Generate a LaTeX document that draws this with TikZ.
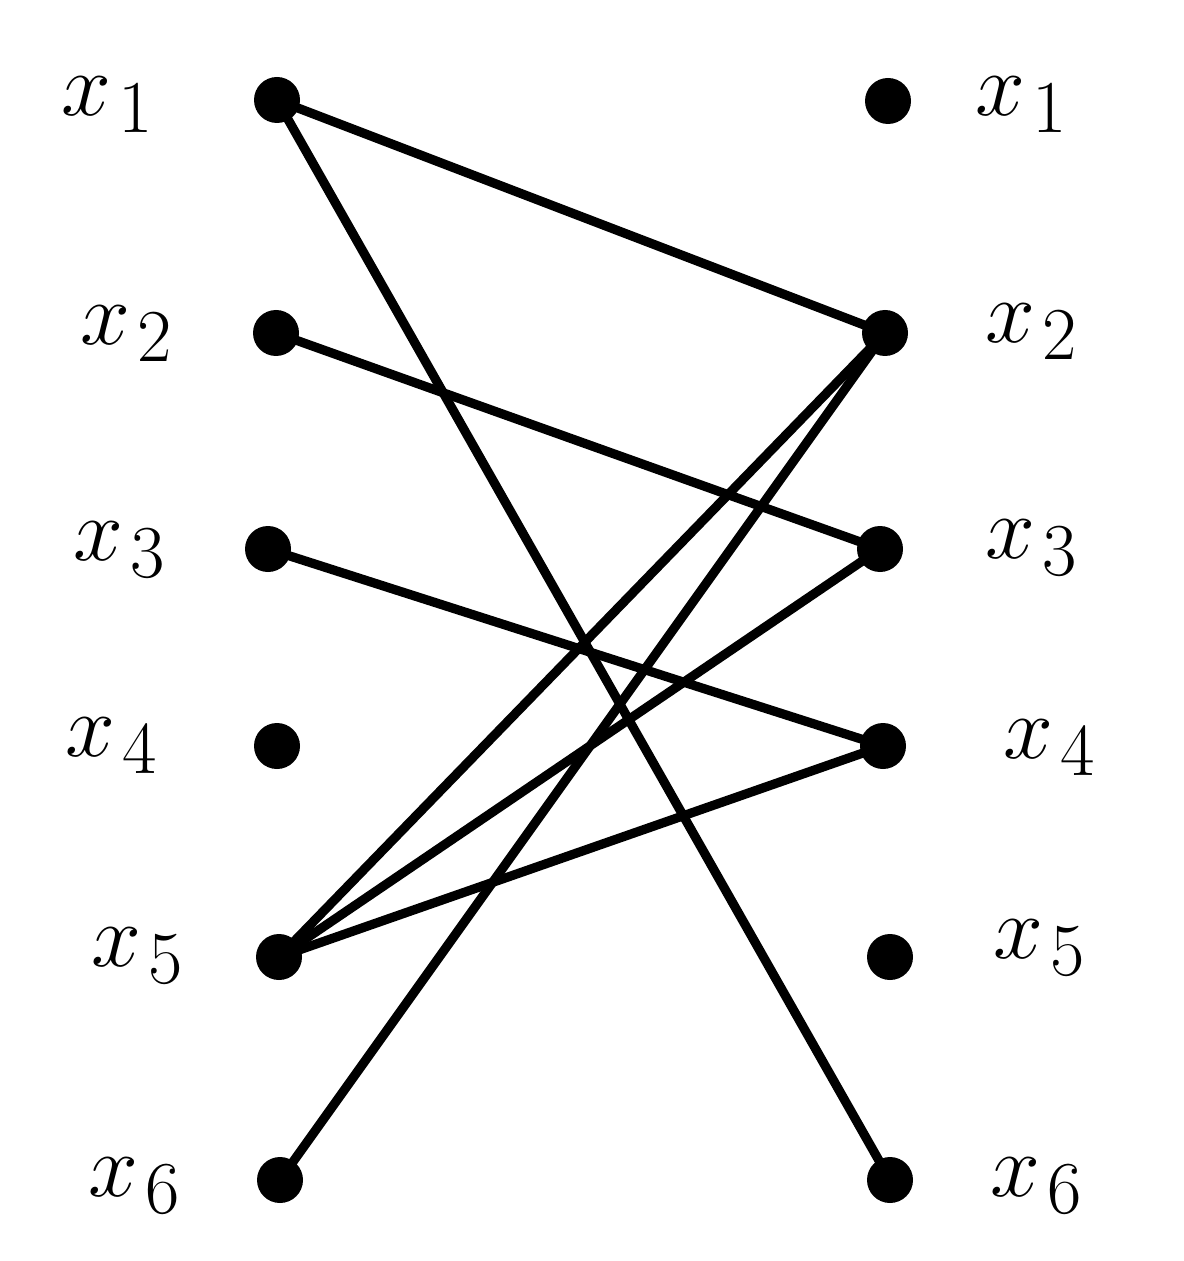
\documentclass[tikz,border=0pt]{standalone}
\begin{document}
\begin{tikzpicture}[x=0.5pt,y=-0.5pt,
  dot/.style={circle,fill=black,inner sep=0pt,minimum size=23pt},
  lab/.style={inner sep=0pt,font=\Huge,scale=1.8},
  edge/.style={line width=4.6pt}]
\useasboundingbox (0,0) rectangle (1183,1261);
\node[dot] (L1) at (277,100) {};
\node[dot] (L2) at (276,333) {};
\node[dot] (L3) at (268,549) {};
\node[dot] (L4) at (277,746) {};
\node[dot] (L5) at (279,957) {};
\node[dot] (L6) at (280,1180) {};
\node[dot] (R1) at (888,101) {};
\node[dot] (R2) at (885,333) {};
\node[dot] (R3) at (880,549) {};
\node[dot] (R4) at (883,746) {};
\node[dot] (R5) at (890,957) {};
\node[dot] (R6) at (890,1180) {};
\node[lab] (lx1) at (108,105) {$x_{\mkern1.5mu 1}$};
\node[lab] (lx2) at (127,334) {$x_{\mkern1.5mu 2}$};
\node[lab] (lx3) at (120,550) {$x_{\mkern1.5mu 3}$};
\node[lab] (lx4) at (112,746) {$x_{\mkern1.5mu 4}$};
\node[lab] (lx5) at (138,956) {$x_{\mkern1.5mu 5}$};
\node[lab] (lx6) at (135,1186) {$x_{\mkern1.5mu 6}$};
\node[lab] (rx1) at (1022,105) {$x_{\mkern1.5mu 1}$};
\node[lab] (rx2) at (1032,332) {$x_{\mkern1.5mu 2}$};
\node[lab] (rx3) at (1032,548) {$x_{\mkern1.5mu 3}$};
\node[lab] (rx4) at (1050,748) {$x_{\mkern1.5mu 4}$};
\node[lab] (rx5) at (1040,948) {$x_{\mkern1.5mu 5}$};
\node[lab] (rx6) at (1037,1186) {$x_{\mkern1.5mu 6}$};
\draw[edge] (L1.center) -- (R2.center);
\draw[edge] (L1.center) -- (R6.center);
\draw[edge] (L2.center) -- (R3.center);
\draw[edge] (L3.center) -- (R4.center);
\draw[edge] (L5.center) -- (R2.center);
\draw[edge] (L5.center) -- (R3.center);
\draw[edge] (L5.center) -- (R4.center);
\draw[edge] (L6.center) -- (R2.center);
\end{tikzpicture}
\end{document}
